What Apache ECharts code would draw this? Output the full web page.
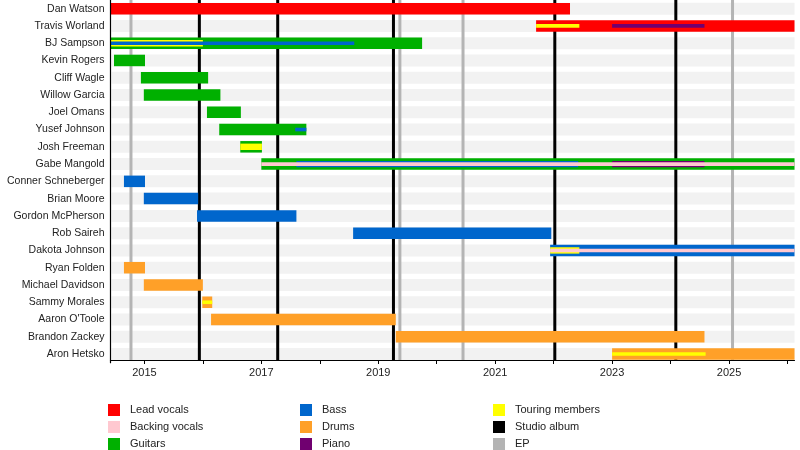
<!DOCTYPE html>
<html>
<head>
<meta charset="utf-8">
<title>Band members timeline</title>
<script src="https://cdn.jsdelivr.net/npm/echarts@6/dist/echarts.min.js"></script>
<style>
  html, body { margin: 0; padding: 0; background: #fff; }
  #chart { width: 800px; height: 450px; }
</style>
</head>
<body>
<div id="chart"></div>
<script>
// members, top to bottom
var members = ['Dan Watson', 'Travis Worland', 'BJ Sampson', 'Kevin Rogers', 'Cliff Wagle',
    'Willow Garcia', 'Joel Omans', 'Yusef Johnson', 'Josh Freeman', 'Gabe Mangold',
    'Conner Schneberger', 'Brian Moore', 'Gordon McPherson', 'Rob Saireh', 'Dakota Johnson',
    'Ryan Folden', 'Michael Davidson', 'Sammy Morales', "Aaron O'Toole", 'Brandon Zackey', 'Aron Hetsko'];

var START = 2014.42;
var END = 2026.12;

// [member, from, to, layer]
var leadVocals = [
    ['Dan Watson', START, 2022.28, 'full'],
    ['Travis Worland', 2021.70, END, 'full']
];
var backingVocals = [
    ['Gabe Mangold', 2017.0, END, 'thin'],
    ['Dakota Johnson', 2021.94, END, 'thin']
];
var guitars = [
    ['BJ Sampson', START, 2019.75, 'full'],
    ['Kevin Rogers', 2014.48, 2015.01, 'full'],
    ['Cliff Wagle', 2014.94, 2016.09, 'full'],
    ['Willow Garcia', 2014.99, 2016.30, 'full'],
    ['Joel Omans', 2016.07, 2016.65, 'full'],
    ['Yusef Johnson', 2016.28, 2017.77, 'full'],
    ['Josh Freeman', 2016.64, 2017.01, 'full'],
    ['Gabe Mangold', 2017.0, END, 'full']
];
var bass = [
    ['BJ Sampson', START, 2018.59, 'thin'],
    ['Yusef Johnson', 2017.58, 2017.77, 'thin'],
    ['Gabe Mangold', 2017.60, 2022.42, 'medium'],
    ['Conner Schneberger', 2014.65, 2015.01, 'full'],
    ['Brian Moore', 2014.99, 2015.92, 'full'],
    ['Gordon McPherson', 2015.90, 2017.60, 'full'],
    ['Rob Saireh', 2018.57, 2021.96, 'full'],
    ['Dakota Johnson', 2021.94, END, 'full']
];
var drums = [
    ['Ryan Folden', 2014.65, 2015.01, 'full'],
    ['Michael Davidson', 2014.99, 2016.0, 'full'],
    ['Sammy Morales', 2015.99, 2016.16, 'full'],
    ["Aaron O'Toole", 2016.14, 2019.30, 'full'],
    ['Brandon Zackey', 2019.30, 2024.58, 'full'],
    ['Aron Hetsko', 2023.0, END, 'full']
];
var piano = [
    ['Travis Worland', 2023.0, 2024.58, 'thin'],
    ['Gabe Mangold', 2023.0, 2024.58, 'medium']
];
var touring = [
    ['Travis Worland', 2021.70, 2022.44, 'thin'],
    ['BJ Sampson', START, 2016.0, 'medium'],
    ['Josh Freeman', 2016.64, 2017.01, 'medium'],
    ['Dakota Johnson', 2021.94, 2022.44, 'medium'],
    ['Sammy Morales', 2015.99, 2016.16, 'thin'],
    ['Aron Hetsko', 2023.0, 2024.60, 'thin']
];

var studioAlbums = [2015.94, 2017.28, 2019.26, 2022.02, 2024.09];
var eps = [2014.77, 2019.37, 2020.45, 2025.06];

var tickYears = [2015, 2016, 2017, 2018, 2019, 2020, 2021, 2022, 2023, 2024, 2025, 2026];
var labelYears = [2015, 2017, 2019, 2021, 2023, 2025];

var layers = {
    full: { h: 11.5, z: 10 },
    medium: { h: 6.4, z: 20 },
    thin: { h: 3.6, z: 30 }
};

function barSeries(name, color, periods) {
    return {
        type: 'custom',
        name: name,
        itemStyle: { color: color },
        data: periods.map(function (p) {
            return [p[1], p[2], members.indexOf(p[0]), p[3]];
        }),
        encode: { x: [0, 1], y: 2 },
        renderItem: function (params, api) {
            var p = periods[params.dataIndex];
            var row = members.indexOf(p[0]);
            var a = api.coord([p[1], row]);
            var b = api.coord([p[2], row]);
            var l = layers[p[3]];
            return {
                type: 'rect',
                z2: l.z,
                shape: { x: a[0], y: a[1] - l.h / 2, width: b[0] - a[0], height: l.h },
                style: { fill: color }
            };
        }
    };
}

function lineSeries(name, color, years) {
    return {
        type: 'custom',
        name: name,
        itemStyle: { color: color },
        data: years.map(function (y) { return [y, 0]; }),
        encode: { x: 0, y: 1 },
        renderItem: function (params, api) {
            var x = api.coord([years[params.dataIndex], 0])[0];
            var top = params.coordSys.y;
            var bottom = api.coord([years[params.dataIndex], members.length - 1])[1] + 6;
            return {
                type: 'rect',
                z2: 5,
                shape: { x: x - 1.5, y: top, width: 3, height: bottom - top },
                style: { fill: color }
            };
        }
    };
}

var stripes = {
    type: 'custom',
    name: 'rows',
    silent: true,
    data: members.map(function (m, i) { return [START, i]; }),
    encode: { x: 0, y: 1 },
    renderItem: function (params, api) {
        var c = api.coord([START, params.dataIndex]);
        var cs = params.coordSys;
        return {
            type: 'rect',
            z2: 0,
            shape: { x: cs.x + 1, y: c[1] - 6, width: cs.width - 1, height: 12 },
            style: { fill: '#f2f2f2' }
        };
    }
};

var chart = echarts.init(document.getElementById('chart'));

var txt = { fontFamily: 'Liberation Sans, Arial, sans-serif', fontSize: 11, color: '#222' };

function legendBox(left, names, colors) {
    return {
        orient: 'vertical',
        left: left,
        top: 404,
        height: 46,
        padding: 0,
        itemWidth: 12,
        itemHeight: 12,
        itemGap: 5,
        icon: 'rect',
        selectedMode: false,
        textStyle: Object.assign({ padding: [0, 0, 0, 5] }, txt),
        data: names.map(function (n, i) { return { name: n, itemStyle: { color: colors[i] } }; })
    };
}

var option = {
    animation: false,
    grid: { left: 110.5, right: 5.5, top: -2.7, bottom: 87.3 },
    xAxis: {
        type: 'value',
        min: START,
        max: END,
        offset: -2.7,
        z: 5,
        splitLine: { show: false },
        axisLine: { show: true, lineStyle: { color: '#000', width: 1.2 } },
        axisTick: { show: true, length: 4, customValues: tickYears, lineStyle: { color: '#000' } },
        axisLabel: Object.assign({ customValues: labelYears, margin: 7, formatter: function (v) { return String(Math.round(v)); } }, txt)
    },
    yAxis: {
        type: 'category',
        inverse: true,
        data: members,
        z: 5,
        axisLine: { show: true, lineStyle: { color: '#000', width: 1.2 } },
        axisTick: { show: false },
        splitLine: { show: false },
        axisLabel: Object.assign({}, txt, { margin: 6, interval: 0, fontSize: 10.5 })
    },
    legend: [
        legendBox(108, ['Lead vocals', 'Backing vocals', 'Guitars'], ['#ff0000', '#ffc8d0', '#00b000']),
        legendBox(300, ['Bass', 'Drums', 'Piano'], ['#0066cc', '#ffa028', '#700070']),
        legendBox(493, ['Touring members', 'Studio album', 'EP'], ['#ffff00', '#000000', '#b4b4b4'])
    ],
    series: [
        stripes,
        lineSeries('EP', '#b4b4b4', eps),
        lineSeries('Studio album', '#000000', studioAlbums),
        barSeries('Lead vocals', '#ff0000', leadVocals),
        barSeries('Backing vocals', '#ffc8d0', backingVocals),
        barSeries('Guitars', '#00b000', guitars),
        barSeries('Bass', '#0066cc', bass),
        barSeries('Drums', '#ffa028', drums),
        barSeries('Piano', '#700070', piano),
        barSeries('Touring members', '#ffff00', touring)
    ]
};

chart.setOption(option);
</script>
</body>
</html>
